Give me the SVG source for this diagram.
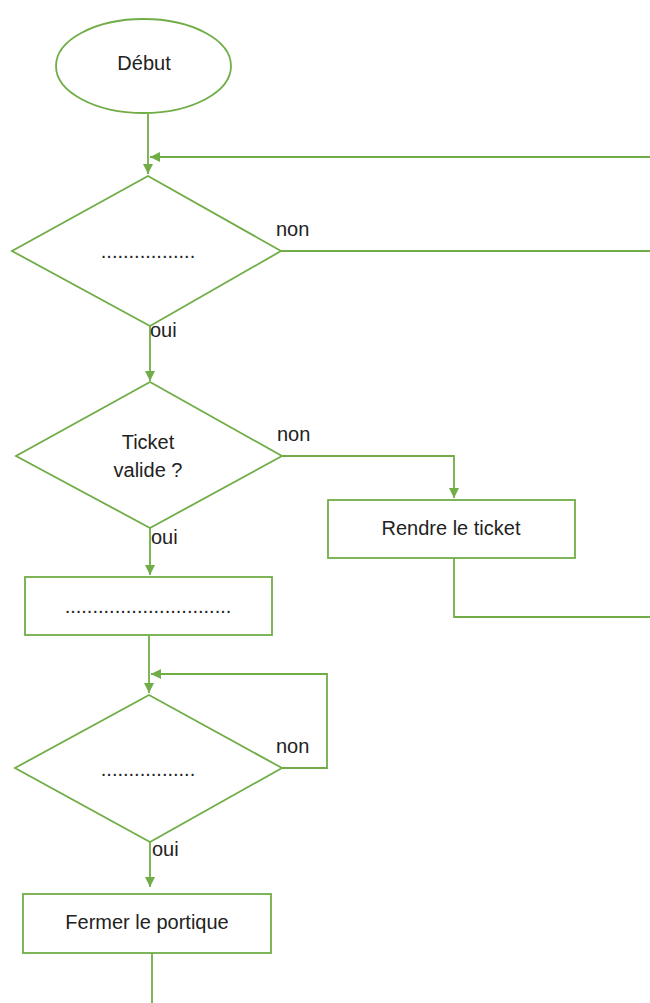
<svg xmlns="http://www.w3.org/2000/svg" width="650" height="1003" viewBox="0 0 650 1003">
<style>
.s{fill:#fff;stroke:#70AD47;stroke-width:1.8}
.c{fill:none;stroke:#70AD47;stroke-width:1.8}
text{font-family:"Liberation Sans",Arial,sans-serif;font-size:20px;fill:#222}
.m{text-anchor:middle}
</style>
<defs>
<marker id="a" viewBox="0 0 10 10" refX="10" refY="5" markerWidth="10" markerHeight="10" markerUnits="userSpaceOnUse" orient="auto">
<path d="M0,0 L10,5 L0,10 z" fill="#70AD47"/>
</marker>
</defs>
<rect width="650" height="1003" fill="#fff"/>
<g id="connectors">
<path class="c" d="M148,114 V174" marker-end="url(#a)"/>
<path class="c" d="M650,157 H150" marker-end="url(#a)"/>
<path class="c" d="M281,251 H650"/>
<path class="c" d="M150,326 V381" marker-end="url(#a)"/>
<path class="c" d="M282,456 H454 V498" marker-end="url(#a)"/>
<path class="c" d="M454,558 V617 H650"/>
<path class="c" d="M150,528 V575" marker-end="url(#a)"/>
<path class="c" d="M149,635 V693" marker-end="url(#a)"/>
<path class="c" d="M282,768 H327 V674 H151" marker-end="url(#a)"/>
<path class="c" d="M150,842 V887" marker-end="url(#a)"/>
<path class="c" d="M152,953 V1003"/>
</g>
<g id="debut">
<ellipse class="s" cx="143.5" cy="66" rx="87.5" ry="47"/>
<text class="m" x="144" y="70">Début</text>
</g>
<g id="decision1">
<polygon class="s" points="148,176 281,251 150,326 12,251"/>
<text class="m" x="148" y="258">.................</text>
</g>
<g id="decision2">
<polygon class="s" points="150,382 282,456 150,528 16,456"/>
<text class="m" x="148" y="449">Ticket</text>
<text class="m" x="148" y="477">valide ?</text>
</g>
<g id="rendre">
<rect class="s" x="328" y="500" width="247" height="58"/>
<text class="m" x="451" y="535">Rendre le ticket</text>
</g>
<g id="action">
<rect class="s" x="25" y="577" width="247" height="58"/>
<text class="m" x="148" y="613">..............................</text>
</g>
<g id="decision3">
<polygon class="s" points="149,695 282,768 150,842 15,768"/>
<text class="m" x="148" y="776">.................</text>
</g>
<g id="fermer">
<rect class="s" x="23" y="894" width="248" height="59"/>
<text class="m" x="147" y="929">Fermer le portique</text>
</g>
<g id="labels">
<text x="276" y="236">non</text>
<text x="150" y="337">oui</text>
<text x="277" y="441">non</text>
<text x="151" y="544">oui</text>
<text x="276" y="753">non</text>
<text x="152" y="856">oui</text>
</g>
</svg>
